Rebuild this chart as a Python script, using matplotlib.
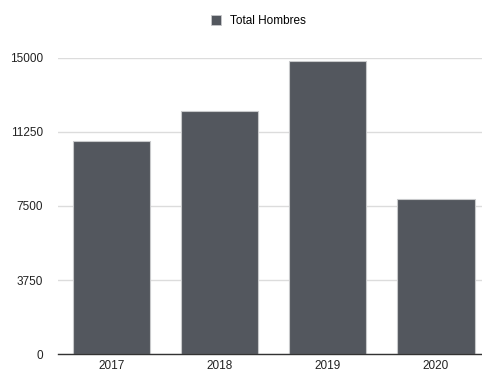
import matplotlib
matplotlib.use("Agg")
import matplotlib.pyplot as plt
from matplotlib.patches import Patch

years = ["2017", "2018", "2019", "2020"]
total_hombres = [10800, 12300, 14800, 7870]
y_ticks = [0, 3750, 7500, 11250, 15000]
series_name = "Total Hombres"

W, H = 482, 372
fig = plt.figure(figsize=(W / 100, H / 100), dpi=100)
plt.rcParams["font.family"] = ["Liberation Sans", "DejaVu Sans"]

left, right = 57.5, 490
bottom, top = 354.3, 57.5
ax = fig.add_axes([left / W, 1 - bottom / H, (right - left) / W, (bottom - top) / H])

bar_color = "#53575e"
x = list(range(len(years)))
ax.bar(x, total_hombres, width=0.715, color=bar_color, edgecolor="#c8c9cb",
       linewidth=0.8, zorder=3)

ax.set_xlim(-0.5, len(years) - 0.5)
ax.set_ylim(0, 15000)
ax.set_yticks(y_ticks)
ax.set_yticklabels([str(t) for t in y_ticks])
ax.set_xticks(x)
ax.set_xticklabels(years)
ax.grid(axis="y", color="#dcdcdc", linewidth=1.0, zorder=0)
ax.set_axisbelow(True)

for s in ["top", "right", "left"]:
    ax.spines[s].set_visible(False)
ax.spines["bottom"].set_color("#333333")
ax.spines["bottom"].set_linewidth(1.0)
ax.spines["bottom"].set_zorder(4)

ax.tick_params(axis="both", length=0, labelsize=8.5, colors="#222222")
ax.tick_params(axis="y", pad=10.5)
ax.tick_params(axis="x", pad=4)

fig.legend(handles=[Patch(facecolor=bar_color, edgecolor="#c8c9cb", linewidth=0.6,
                          label=series_name)],
           loc="center", bbox_to_anchor=(258 / W, 1 - 21 / H), frameon=False,
           fontsize=8.5, handlelength=0.9, handleheight=0.9, handletextpad=0.7)

fig.savefig("out.png", dpi=100)
